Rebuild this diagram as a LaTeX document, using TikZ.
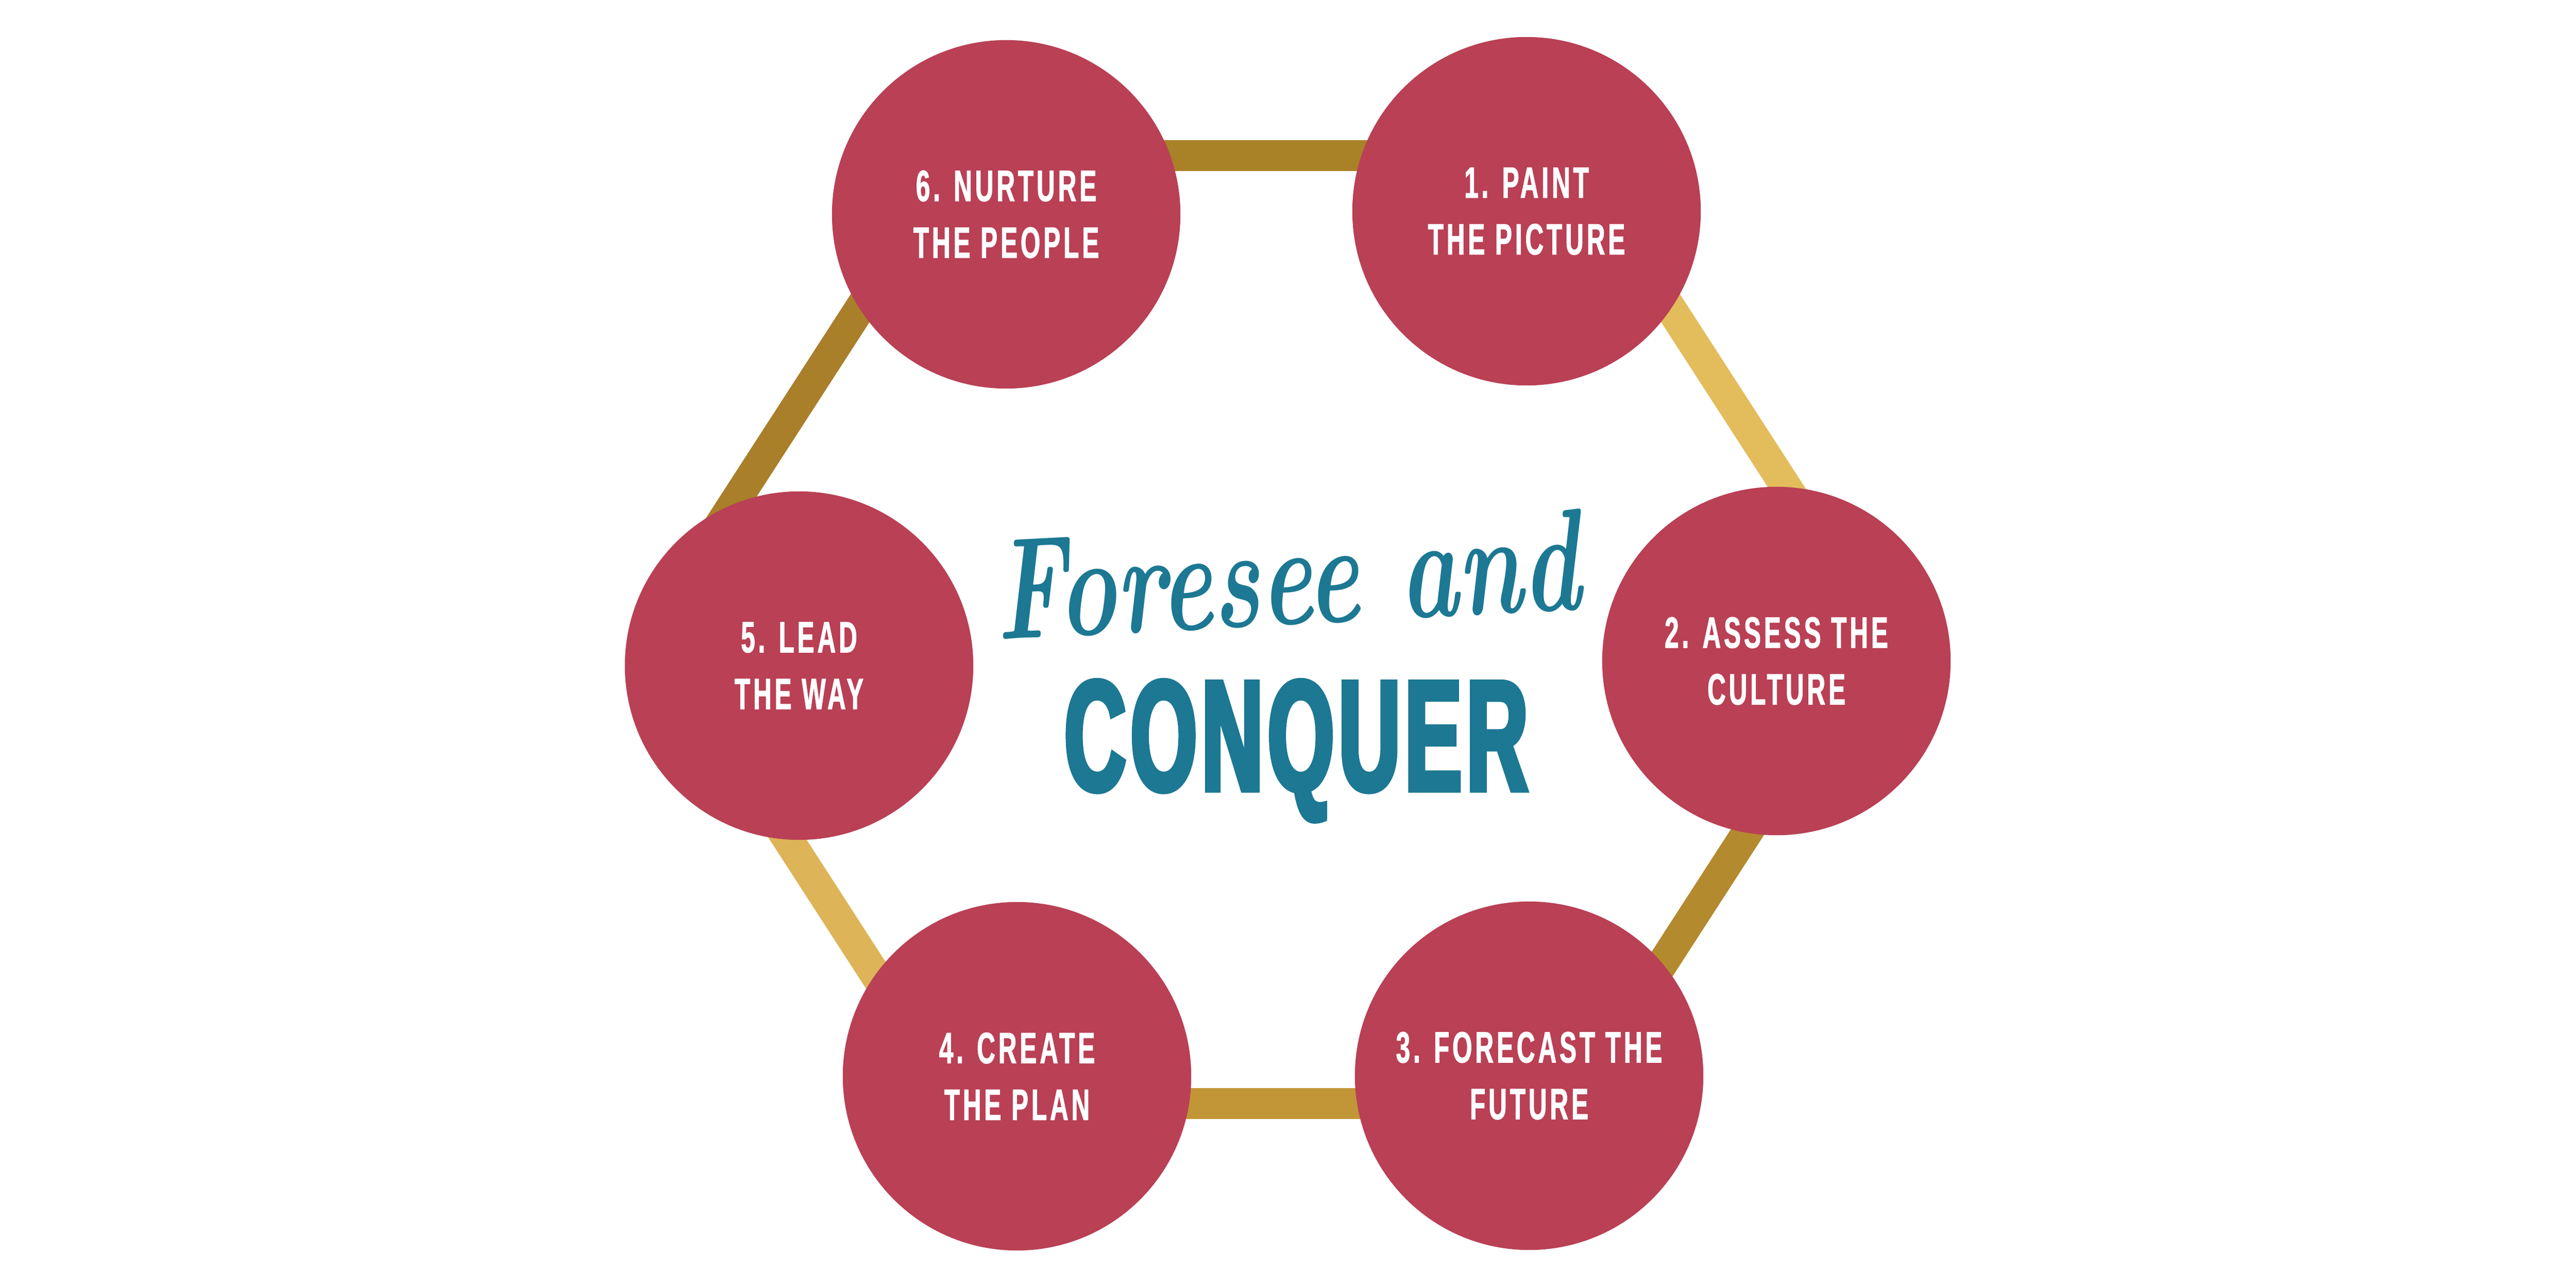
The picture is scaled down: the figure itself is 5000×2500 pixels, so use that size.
\documentclass[tikz,border=0pt]{standalone}
\usepackage{fontspec}
\newfontfamily\labfont{Liberation Sans}[FakeStretch=0.58,LetterSpace=7,FakeBold=1.2]
\newfontfamily\bigfont{Liberation Sans}[FakeStretch=0.54,LetterSpace=3,FakeBold=3]
\newfontfamily\scrfont{lmroman10-bolditalic.otf}[FakeStretch=0.68]
\definecolor{berry}{HTML}{B94055}
\definecolor{tealc}{HTML}{1C7893}
\definecolor{goldA}{HTML}{A98127}
\definecolor{goldB}{HTML}{E3BC5C}
\definecolor{goldC}{HTML}{B48A2F}
\definecolor{goldD}{HTML}{C29536}
\definecolor{goldE}{HTML}{DDB458}
\definecolor{goldF}{HTML}{A97F2A}
\begin{document}
\begin{tikzpicture}[x=0.01cm,y=-0.01cm,
  stepcirc/.style={circle,fill=berry,minimum size=6.76cm,inner sep=0pt,text=white,align=center,
    font=\labfont\bfseries\fontsize{24.2}{31.3}\selectfont},
  goldedge/.style={line width=0.6cm,line cap=round}]
\useasboundingbox (0,0) rectangle (5000,2500);
\fill[white] (0,0) rectangle (5000,2500);
\coordinate (vTL) at (1861,302);
\coordinate (vTR) at (3051,302);
\coordinate (vR)  at (3646,1222);
\coordinate (vBR) at (3051,2142);
\coordinate (vBL) at (1861,2142);
\coordinate (vL)  at (1266,1222);
\draw[goldedge,goldA] (vTL) -- (vTR);
\draw[goldedge,goldB] (vTR) -- (vR);
\draw[goldedge,goldC] (vR) -- (vBR);
\draw[goldedge,goldD] (vBR) -- (vBL);
\draw[goldedge,goldE] (vBL) -- (vL);
\draw[goldedge,goldF] (vL) -- (vTL);
\node[stepcirc] (c1) at (2963,410) {1. PAINT\\THE PICTURE};
\node[stepcirc] (c2) at (3448,1283) {2. ASSESS THE\\CULTURE};
\node[stepcirc] (c3) at (2968,2088) {3. FORECAST THE\\FUTURE};
\node[stepcirc] (c4) at (1974,2089) {4. CREATE\\THE PLAN};
\node[stepcirc] (c5) at (1551,1292) {5. LEAD\\THE WAY};
\node[stepcirc] (c6) at (1953,416) {6. NURTURE\\THE PEOPLE};
\node[text=tealc,font=\scrfont\fontsize{80}{84}\selectfont,rotate=3,anchor=base] (t1) at (2503,1212) {Foresee and};
\node[text=tealc,font=\bigfont\bfseries\fontsize{87}{90}\selectfont,anchor=base] (t2) at (2516,1534) {CONQUER};
\end{tikzpicture}
\end{document}
